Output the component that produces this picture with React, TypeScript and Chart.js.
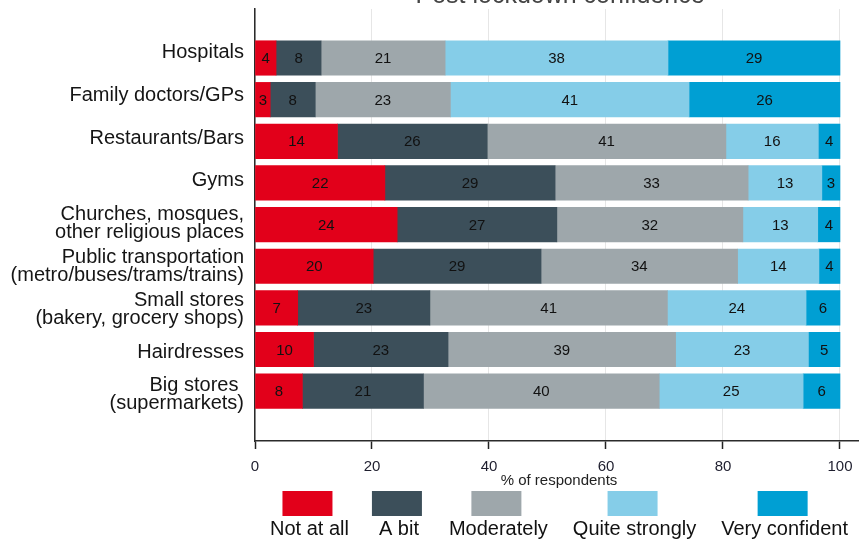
import { useEffect, useRef } from 'react';
import { Chart, registerables } from 'chart.js';

Chart.register(...registerables);

const TITLE = 'Post lockdown confidence';
const X_TITLE = '% of respondents';
const CATEGORIES: string[][] = [
  ['Hospitals'],
  ['Family doctors/GPs'],
  ['Restaurants/Bars'],
  ['Gyms'],
  ['Churches, mosques,', 'other religious places'],
  ['Public transportation', '(metro/buses/trams/trains)'],
  ['Small stores', '(bakery, grocery shops)'],
  ['Hairdresses'],
  ['Big stores ', '(supermarkets)'],
];
const SERIES_NAMES = ['Not at all', 'A bit', 'Moderately', 'Quite strongly', 'Very confident'];
const SERIES_COLORS = ['#e2001a', '#3c4f5a', '#9ea7ab', '#85cde8', '#009fd3'];
const NOT_AT_ALL = [3.6, 2.6, 14.1, 22.2, 24.3, 20.2, 7.3, 10.0, 8.1];
const A_BIT = [7.7, 7.7, 25.6, 29.1, 27.3, 28.7, 22.6, 23.0, 20.7];
const MODERATELY = [21.2, 23.1, 40.8, 33.0, 31.8, 33.6, 40.6, 38.9, 40.3];
const QUITE_STRONGLY = [38.1, 40.8, 15.8, 12.6, 12.8, 13.9, 23.7, 22.7, 24.6];
const VERY_CONFIDENT = [29.4, 25.8, 3.7, 3.1, 3.8, 3.6, 5.8, 5.4, 6.3];
const SERIES_VALUES = [NOT_AT_ALL, A_BIT, MODERATELY, QUITE_STRONGLY, VERY_CONFIDENT];
const X_TICKS = [0, 20, 40, 60, 80, 100];

const FONT = "'Liberation Sans', Arial, Helvetica, sans-serif";
const LABEL_SHIFT = -0.132;
const LABEL_STEP = 1.0276;

const decorPlugin = {
  id: 'decor',
  afterDatasetsDraw(chart: any) {
    const ctx = chart.ctx;
    ctx.save();
    ctx.font = `15px ${FONT}`;
    ctx.fillStyle = '#111';
    ctx.textAlign = 'center';
    ctx.textBaseline = 'middle';
    chart.data.datasets.forEach((ds: any, di: number) => {
      const meta = chart.getDatasetMeta(di);
      meta.data.forEach((el: any, i: number) => {
        const p = el.getProps(['x', 'base', 'y'], true);
        const v = Math.round(ds.data[i].x);
        ctx.fillText(String(v), (p.x + p.base) / 2, p.y + 1);
      });
    });
    ctx.restore();
  },
  afterDraw(chart: any) {
    const { ctx, chartArea } = chart;
    const cx = (chartArea.left + chartArea.right) / 2;
    const b = chartArea.bottom;
    ctx.save();
    ctx.textAlign = 'center';
    // title (partly cut off at top)
    ctx.font = `25px ${FONT}`;
    ctx.fillStyle = '#444';
    ctx.textBaseline = 'alphabetic';
    ctx.fillText(TITLE, cx + 3, 3);
    // x axis title
    ctx.font = `15px ${FONT}`;
    ctx.fillStyle = '#222';
    ctx.textBaseline = 'middle';
    ctx.fillText(X_TITLE, cx + 2, b + 40);
    // legend
    ctx.font = `20px ${FONT}`;
    const boxW = 50;
    const boxH = 25;
    const gap = 25;
    const widths = SERIES_NAMES.map((n) => Math.max(boxW, ctx.measureText(n).width));
    const total = widths.reduce((a, w) => a + w, 0) + gap * (widths.length - 1);
    let x = cx - total / 2;
    SERIES_NAMES.forEach((name, i) => {
      const w = widths[i];
      ctx.fillStyle = SERIES_COLORS[i];
      ctx.fillRect(x + (w - boxW) / 2, b + 50, boxW, boxH);
      ctx.fillStyle = '#111';
      ctx.textBaseline = 'alphabetic';
      ctx.fillText(name, x + w / 2 + 2, b + 94);
      x += w + gap;
    });
    ctx.restore();
  },
};

export default function App() {
  const ref = useRef<HTMLCanvasElement | null>(null);
  useEffect(() => {
    if (!ref.current) return;
    const chart = new Chart(ref.current, {
      type: 'bar',
      data: {
        datasets: SERIES_NAMES.map((name, k) => ({
          label: name,
          data: SERIES_VALUES[k].map((v, i) => ({ x: v, y: i })),
          backgroundColor: SERIES_COLORS[k],
          borderWidth: 0,
          barThickness: 34.5,
        })),
      },
      options: {
        indexAxis: 'y',
        animation: false,
        responsive: false,
        devicePixelRatio: 1,
        layout: { padding: { top: 9, bottom: 59, left: 0, right: 0 } },
        plugins: {
          legend: { display: false },
          title: { display: false },
          tooltip: { enabled: false },
        },
        scales: {
          x: {
            type: 'linear',
            stacked: true,
            min: 0,
            max: 103.25,
            offset: false,
            afterBuildTicks: (scale: any) => {
              scale.ticks = X_TICKS.map((v) => ({ value: v }));
            },
            afterFit: (scale: any) => {
              scale.height = 40;
              scale.paddingLeft = 0;
              scale.paddingRight = 0;
            },
            grid: {
              color: '#e6e6e6',
              lineWidth: 1,
              tickColor: '#222',
              tickLength: 8,
              tickWidth: 1.5,
              offset: false,
            },
            border: { display: true, color: '#2b2b2b', width: 1.5 },
            ticks: {
              color: '#1e1e2e',
              font: { family: FONT, size: 15 },
              padding: 9,
            },
          },
          y: {
            type: 'linear',
            stacked: true,
            reverse: true,
            offset: false,
            min: -1.1765,
            max: 9.196,
            afterBuildTicks: (scale: any) => {
              scale.ticks = CATEGORIES.map((_, i) => ({ value: LABEL_SHIFT + i * LABEL_STEP }));
            },
            afterFit: (scale: any) => {
              scale.width = 255;
              scale.paddingTop = 0;
              scale.paddingBottom = 0;
            },
            grid: { display: false, drawTicks: false, offset: false },
            border: { display: true, color: '#2b2b2b', width: 1.5 },
            ticks: {
              color: '#151515',
              font: { family: FONT, size: 20, lineHeight: 0.9 },
              padding: 11,
              autoSkip: false,
              callback: (_v: any, index: number) => CATEGORIES[index],
            },
          },
        },
      },
      plugins: [decorPlugin],
    } as any);
    return () => chart.destroy();
  }, []);
  return (
    <div style={{ position: 'fixed', left: 0, top: 0, width: 859, height: 540, background: '#fff' }}>
      <canvas ref={ref} width={859} height={540} style={{ display: 'block' }} />
    </div>
  );
}
